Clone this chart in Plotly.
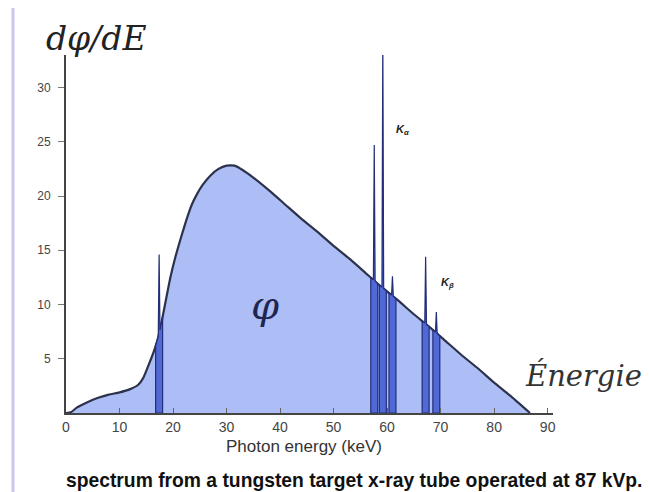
import numpy as np
import plotly.graph_objects as go

# Continuous bremsstrahlung spectrum (keV, relative intensity)
energy_kev = [1, 2, 4, 6, 8, 10, 12, 13.5, 14.5, 15.5, 16.5, 17.5, 18.5, 19.5, 20.5,
              21.5, 22.5, 23.5, 24.5, 25.5, 27, 28.5, 30, 31.5, 33, 35, 38, 41, 44,
              47, 50, 53, 56, 59, 62, 65, 68, 71, 74, 77, 80, 83, 86.7]
intensity = [0.1, 0.5, 1.0, 1.4, 1.7, 1.9, 2.2, 2.6, 3.3, 4.5, 5.8, 7.5, 10.0, 12.5, 14.5,
             16.2, 17.8, 19.2, 20.2, 21.0, 21.9, 22.5, 22.8, 22.8, 22.4, 21.7, 20.5, 19.2, 17.9,
             16.7, 15.4, 14.2, 12.9, 11.6, 10.4, 9.1, 7.9, 6.6, 5.3, 4.1, 2.8, 1.6, 0.0]

# Characteristic lines (keV, peak height)
line_energy = [17.4, 57.6, 59.2, 61.0, 67.2, 69.2]
line_height = [14.6, 24.7, 34.5, 12.6, 14.4, 9.3]

x_ticks = [0, 10, 20, 30, 40, 50, 60, 70, 80, 90]
y_ticks = [5, 10, 15, 20, 25, 30]

LIGHT = "rgb(172,190,245)"
MID = "rgb(80,105,215)"
DARK = "rgb(35,45,120)"

fig = go.Figure()
fig.add_trace(go.Scatter(
    x=[0] + energy_kev, y=[0] + intensity, mode="lines",
    line=dict(color="rgb(45,50,75)", width=2.2, shape="spline", smoothing=0.4),
    fill="tozeroy", fillcolor=LIGHT, hoverinfo="skip", showlegend=False, cliponaxis=False))

hw, sw = 0.65, 0.16
for e, h in zip(line_energy, line_height):
    cl = float(np.interp(e - hw, energy_kev, intensity))
    cs = float(np.interp(e - sw, energy_kev, intensity))
    cr = float(np.interp(e + hw, energy_kev, intensity))
    cs2 = float(np.interp(e + sw, energy_kev, intensity))
    fig.add_trace(go.Scatter(
        x=[e - hw, e - hw, e - sw, e, e + sw, e + hw, e + hw, e - hw],
        y=[0, cl, cs, h, cs2, cr, 0, 0],
        mode="lines", fill="toself", fillcolor=MID, cliponaxis=False,
        line=dict(color=DARK, width=1.2), hoverinfo="skip", showlegend=False))

XMAX, YMAX = 91, 33
L, R, T, B = 66, 96, 55, 79
W = 649 - L - R
H = 492 - T - B


def ppx(xpix):
    return (xpix - L) / W


def ppy(ypix):
    return (492 - B - ypix) / H


ann = []
ann.append(dict(x=ppx(96), y=ppy(38), text="<i>dφ/dE</i>", showarrow=False,
                font=dict(family="DejaVu Serif", size=33, color="#222")))
ann.append(dict(x=ppx(265), y=ppy(305), text="<i>φ</i>", showarrow=False,
                font=dict(family="DejaVu Serif", size=40, color="#1e2650")))
ann.append(dict(x=ppx(583), y=ppy(375), text="<i>Énergie</i>", showarrow=False,
                font=dict(family="DejaVu Serif", size=29, color="#333")))
ann.append(dict(x=ppx(403), y=ppy(130), text="<b><i>K<sub>α</sub></i></b>", showarrow=False,
                font=dict(family="Liberation Sans", size=11, color="#222")))
ann.append(dict(x=ppx(447), y=ppy(283), text="<b><i>K<sub>β</sub></i></b>", showarrow=False,
                font=dict(family="Liberation Sans", size=11, color="#222")))
ann.append(dict(x=ppx(304), y=ppy(446), text="Photon energy (keV)", showarrow=False,
                font=dict(family="Liberation Sans", size=17, color="#333")))
ann.append(dict(x=ppx(354), y=ppy(481),
                text="<b>spectrum from a tungsten target x-ray tube operated at 87 kVp.</b>",
                showarrow=False, font=dict(family="Liberation Sans", size=19.3, color="#111")))
for a in ann:
    a["xref"] = "paper"
    a["yref"] = "paper"
    a["xanchor"] = "center"
    a["yanchor"] = "middle"

fig.update_layout(
    width=649, height=492,
    margin=dict(l=L, r=R, t=T, b=B),
    paper_bgcolor="white", plot_bgcolor="white",
    annotations=ann,
    shapes=[dict(type="line", xref="paper", yref="paper", x0=ppx(13), x1=ppx(13),
                 y0=ppy(492), y1=ppy(8), line=dict(color="rgb(205,195,238)", width=3))],
    xaxis=dict(range=[0, XMAX], tickvals=x_ticks, ticktext=[str(v) for v in x_ticks],
               showgrid=False, zeroline=False, showline=True, linecolor="#444", linewidth=2,
               ticks="inside", ticklen=5, tickcolor="#666",
               tickfont=dict(family="Liberation Sans", size=14, color="#444")),
    yaxis=dict(range=[0, YMAX], tickvals=y_ticks, ticktext=[str(v) for v in y_ticks],
               showgrid=False, zeroline=False, showline=True, linecolor="#444", linewidth=2,
               ticks="outside", ticklen=6, tickcolor="#777", ticklabelstandoff=5,
               tickfont=dict(family="Liberation Sans", size=12, color="#444")),
)

fig.write_html("out.html")
